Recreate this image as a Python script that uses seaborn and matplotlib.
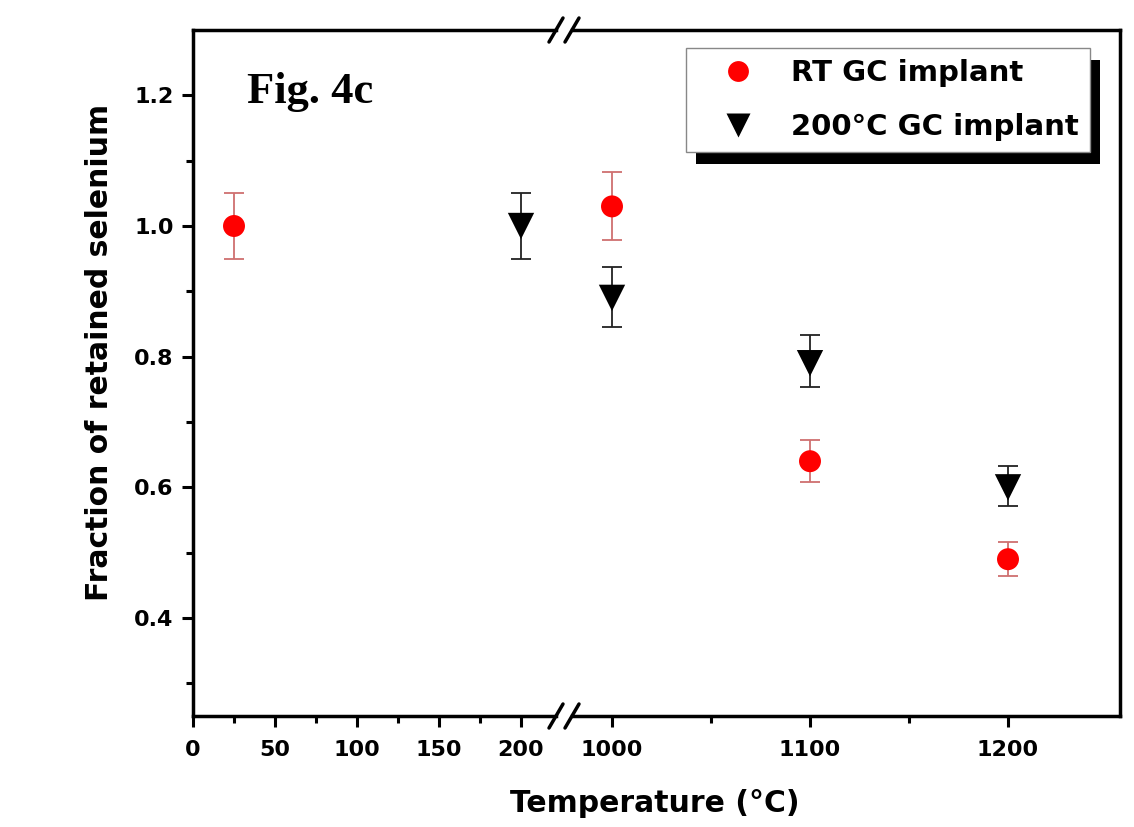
import numpy as np
import pandas as pd
import matplotlib
matplotlib.use("Agg")
import matplotlib.pyplot as plt
from matplotlib.lines import Line2D
from matplotlib.patches import Rectangle
import seaborn as sns

# ---- data ----
rt_temp = [25, 1000, 1100, 1200]
rt_frac = [1.00, 1.03, 0.64, 0.49]
rt_err_low = [0.05, 0.052, 0.032, 0.026]
rt_err_high = [0.05, 0.052, 0.032, 0.026]

hot_temp = [200, 1000, 1100, 1200]
hot_frac = [1.00, 0.89, 0.79, 0.60]
hot_err_low = [0.05, 0.044, 0.037, 0.028]
hot_err_high = [0.05, 0.047, 0.043, 0.032]

left_ticks = [0, 50, 100, 150, 200]
right_ticks = [1000, 1100, 1200]
y_ticks = [0.4, 0.6, 0.8, 1.0, 1.2]

series_names = ["RT GC implant", "200°C GC implant"]

df = pd.DataFrame({
    "temp": rt_temp + hot_temp,
    "frac": rt_frac + hot_frac,
    "lo": rt_err_low + hot_err_low,
    "hi": rt_err_high + hot_err_high,
    "series": [series_names[0]] * len(rt_temp) + [series_names[1]] * len(hot_temp),
})

sns.set_theme(style="ticks")
plt.rcParams["font.family"] = ["DejaVu Sans"]
plt.rcParams["font.weight"] = "bold"
plt.rcParams["text.color"] = "black"
plt.rcParams["xtick.labelcolor"] = "black"
plt.rcParams["ytick.labelcolor"] = "black"

W, H = 1134, 827
fig = plt.figure(figsize=(W / 100, H / 100), dpi=100)

ax_l_px = (193, 556)
ax_r_px = (572, 1120)
top_px, bot_px = 30, 716
b = 1 - bot_px / H
h = (bot_px - top_px) / H
axL = fig.add_axes([ax_l_px[0] / W, b, (ax_l_px[1] - ax_l_px[0]) / W, h])
axR = fig.add_axes([ax_r_px[0] / W, b, (ax_r_px[1] - ax_r_px[0]) / W, h], sharey=axL)

colors = {series_names[0]: "#ff0000", series_names[1]: "#000000"}
err_colors = {series_names[0]: "#cf7070", series_names[1]: "#222222"}
markers = {series_names[0]: "o", series_names[1]: "v"}
sizes = {series_names[0]: 250, series_names[1]: 360}

for ax in (axL, axR):
    for name in series_names:
        sub = df[df.series == name]
        ax.errorbar(sub.temp, sub.frac, yerr=[sub.lo, sub.hi], fmt="none",
                    ecolor=err_colors[name], elinewidth=1.3, capsize=7, capthick=1.3, zorder=2)
    sns.scatterplot(data=df, x="temp", y="frac", hue="series", style="series",
                    palette=colors, markers=markers, size="series", sizes=sizes,
                    edgecolor="none", linewidth=0, ax=ax, legend=False, zorder=3)

axL.set_xlim(0, (ax_l_px[1] - ax_l_px[0]) / 1.64)
axR.set_xlim(1000 - (612 - ax_r_px[0]) / 1.98, 1000 + (ax_r_px[1] - 612) / 1.98)
axL.set_ylim(0.25, 1.3)

axL.set_xticks(left_ticks)
axL.set_xticks([25, 75, 125, 175], minor=True)
axR.set_xticks(right_ticks)
axR.set_xticks([1050, 1150], minor=True)
axL.set_yticks(y_ticks)
axL.set_yticks([0.3, 0.5, 0.7, 0.9, 1.1], minor=True)

for ax in (axL, axR):
    ax.set_xlabel("")
    ax.set_ylabel("")
    for s in ax.spines.values():
        s.set_linewidth(2.5)
        s.set_color("black")
    ax.tick_params(axis="both", which="major", length=8, width=2.2, labelsize=16,
                   color="black", labelcolor="black")
    ax.tick_params(axis="both", which="minor", length=5, width=2.2, color="black")
    ax.tick_params(axis="x", pad=9)
    ax.tick_params(axis="y", pad=6)
axL.spines["right"].set_visible(False)
axR.spines["left"].set_visible(False)
axR.tick_params(axis="y", which="both", left=False, labelleft=False)
for ax in (axL, axR):
    for lab in ax.get_xticklabels() + ax.get_yticklabels():
        lab.set_fontweight("bold")

# break marks
for xp in (ax_l_px[1], ax_r_px[0]):
    for yp in (top_px, bot_px):
        xs = [(xp - 7) / W, (xp + 7) / W]
        ys = [1 - (yp + 12) / H, 1 - (yp - 12) / H]
        fig.add_artist(Line2D(xs, ys, color="black", lw=2.5, transform=fig.transFigure))

fig.text(655 / W, 1 - 803 / H, "Temperature (°C)", ha="center", va="center",
         fontsize=21.5, fontweight="bold", color="black")
fig.text(100 / W, 1 - 352 / H, "Fraction of retained selenium", ha="center", va="center",
         rotation=90, fontsize=21.5, fontweight="bold", color="black")
fig.text(247 / W, 1 - 92 / H, "Fig. 4c", ha="left", va="center",
         fontsize=32, fontweight="bold", family=["Liberation Serif"], color="black")

handles = [
    Line2D([], [], marker="o", color="none", markerfacecolor="#ff0000", markeredgecolor="none", markersize=15),
    Line2D([], [], marker="v", color="none", markerfacecolor="black", markeredgecolor="none", markersize=17),
]
leg = axR.legend(handles, series_names, loc="upper right",
                 bbox_to_anchor=((1090 - ax_r_px[0]) / (ax_r_px[1] - ax_r_px[0]), (716 - 48) / (716 - 30)),
                 frameon=True, fancybox=False, prop={"weight": "bold", "size": 21},
                 handletextpad=0.45, borderpad=0.38, labelspacing=0.9, handlelength=2.77,
                 borderaxespad=0)
for t in leg.get_texts():
    t.set_color("black")
leg.get_frame().set_edgecolor("#888888")
leg.get_frame().set_linewidth(1.0)
leg.get_frame().set_alpha(1)
leg.set_zorder(10)

fig.canvas.draw()
bb = leg.get_window_extent()
inv = fig.transFigure.inverted()
(x0, y0), (x1, y1) = inv.transform([[bb.x0 + 10, bb.y0 - 12], [bb.x1 + 10, bb.y1 - 12]])
shadow = Rectangle((x0, y0), x1 - x0, y1 - y0, transform=fig.transFigure,
                   facecolor="black", edgecolor="none", zorder=9)
axR.add_artist(shadow)
shadow.set_clip_on(False)

fig.savefig("out.png", dpi=100)
